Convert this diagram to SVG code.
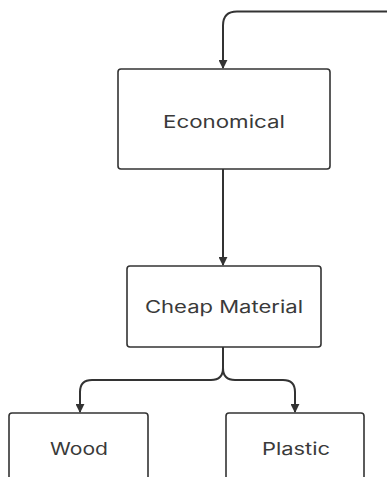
<svg xmlns="http://www.w3.org/2000/svg" width="387" height="477" viewBox="0 0 387 477">
<style>
.box{fill:#fff;stroke:#333;stroke-width:1.6}
.lbl{font-family:"Inter","Open Sans","Liberation Sans",sans-serif;font-size:17px;fill:#3a3a3a;text-anchor:middle}
.con{fill:none;stroke:#333;stroke-width:2}
</style>
<defs>
<marker id="ah" viewBox="0 0 10 10" refX="9" refY="5" markerWidth="4.5" markerHeight="4.5" orient="auto" markerUnits="strokeWidth">
<path d="M0,0 L10,5 L0,10 z" fill="#333"/>
</marker>
</defs>
<rect width="387" height="477" fill="#fff"/>
<g id="connectors">
<path class="con" d="M387,11.5 H237 Q223,11.5 223,25.5 V68" marker-end="url(#ah)"/>
<path class="con" d="M223,169 V265" marker-end="url(#ah)"/>
<path class="con" d="M223,347 V368 Q223,380 211,380 H92 Q80,380 80,392 V412" marker-end="url(#ah)"/>
<path class="con" d="M223,368 Q223,380 235,380 H283 Q295,380 295,392 V412" marker-end="url(#ah)"/>
</g>
<g id="economical">
<rect class="box" x="118" y="69" width="212" height="100" rx="3"/>
<text class="lbl" x="224" y="128" textLength="122" lengthAdjust="spacingAndGlyphs">Economical</text>
</g>
<g id="cheap-material">
<rect class="box" x="127" y="266" width="194" height="81" rx="3"/>
<text class="lbl" x="224" y="313" textLength="158" lengthAdjust="spacingAndGlyphs">Cheap Material</text>
</g>
<g id="wood">
<rect class="box" x="9" y="413" width="139" height="80" rx="3"/>
<text class="lbl" x="79" y="455" textLength="58" lengthAdjust="spacingAndGlyphs">Wood</text>
</g>
<g id="plastic">
<rect class="box" x="226" y="413" width="138" height="80" rx="3"/>
<text class="lbl" x="296" y="455" textLength="68" lengthAdjust="spacingAndGlyphs">Plastic</text>
</g>
</svg>
